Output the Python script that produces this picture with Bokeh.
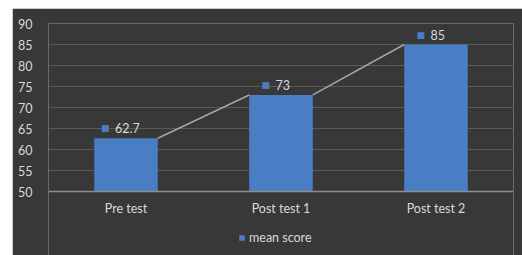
from bokeh.plotting import figure
from bokeh.models import FactorRange, Range1d, ColumnDataSource, Legend, LegendItem, Spacer, FixedTicker, Span
from bokeh.layouts import row, column
from bokeh.transform import dodge
from bokeh.core.properties import value
from bokeh.embed import file_html
from bokeh.resources import INLINE

categories = ["Pre test", "Post test 1", "Post test 2"]
mean_score = [62.7, 73, 85]
value_labels = ["62.7", "73", "85"]
y_ticks = [50, 55, 60, 65, 70, 75, 80, 85, 90]
series_name = "mean score"

BG = "#383838"
TXT = "#d9d9d9"
BAR = "#4a7ec4"
FONT = "Lato"
FS = "12.5px"
BW = 0.41
Y_MIN, Y_MAX = y_ticks[0], y_ticks[-1]
Y_VIEW_START = 34.8  # extra room below the axis for category labels and legend

p = figure(x_range=FactorRange(*categories), y_range=Range1d(Y_VIEW_START, Y_MAX),
           width=510, height=247, output_backend="svg", toolbar_location=None,
           min_border_left=36, min_border_right=9, min_border_top=15, min_border_bottom=0)
p.background_fill_color = BG
p.border_fill_color = BG
p.outline_line_color = None

src = ColumnDataSource(dict(cat=categories, val=mean_score, lab=value_labels,
                            base=[Y_MIN] * len(categories),
                            key=["\u25A0"] * len(value_labels),
                            sq_off=[-(2.75 * len(s) + 14) for s in value_labels],
                            tx_off=[-(2.75 * len(s) + 14) + 14 for s in value_labels]))
bars = p.vbar(x="cat", top="val", bottom="base", width=BW, source=src,
              fill_color=BAR, line_color=None)

seg = ColumnDataSource(dict(x0=categories[:-1], x1=categories[1:],
                            y0=mean_score[:-1], y1=mean_score[1:]))
p.segment(x0=dodge("x0", BW / 2, range=p.x_range), y0="y0",
          x1=dodge("x1", -BW / 2, range=p.x_range), y1="y1",
          source=seg, line_color="#a6a6a6", line_width=1.5)

p.text(x="cat", y="val", text="key", source=src, x_offset="sq_off", y_offset=-10,
       text_align="left", text_baseline="middle", text_color=BAR,
       text_font=value("DejaVu Sans"), text_font_size="9px")
p.text(x="cat", y="val", text="lab", source=src, x_offset="tx_off", y_offset=-10,
       text_align="left", text_baseline="middle", text_color=TXT,
       text_font=value(FONT), text_font_size=FS)

# category labels under the baseline
p.text(x="cat", y="base", text="cat", source=src, y_offset=17,
       text_align="center", text_baseline="middle", text_color=TXT,
       text_font=value(FONT), text_font_size=FS)

p.add_layout(Span(location=Y_MIN, dimension="width", line_color="#8c8c8c", line_width=1.5))

p.xaxis.visible = False
p.yaxis.ticker = FixedTicker(ticks=y_ticks)
p.yaxis.axis_line_color = None
p.yaxis.major_tick_line_color = None
p.yaxis.minor_tick_line_color = None
p.yaxis.major_label_text_color = TXT
p.yaxis.major_label_text_font = FONT
p.yaxis.major_label_text_font_size = FS
p.yaxis.major_label_standoff = 10

p.xgrid.grid_line_color = None
p.ygrid.grid_line_color = "#5a5a5a"
p.ygrid.grid_line_width = 1

legend = Legend(items=[LegendItem(label=series_name, renderers=[bars])],
                location=(190, 10), orientation="horizontal",
                background_fill_alpha=0, border_line_color=None,
                label_text_color=TXT, label_text_font=FONT, label_text_font_size=FS,
                glyph_width=7, glyph_height=7, label_standoff=4,
                padding=0, margin=0)
p.add_layout(legend)

layout = column(Spacer(width=522, height=8),
                row(Spacer(width=12, height=247), p, spacing=0),
                spacing=0)
open("out.html", "w").write(file_html(layout, INLINE))
